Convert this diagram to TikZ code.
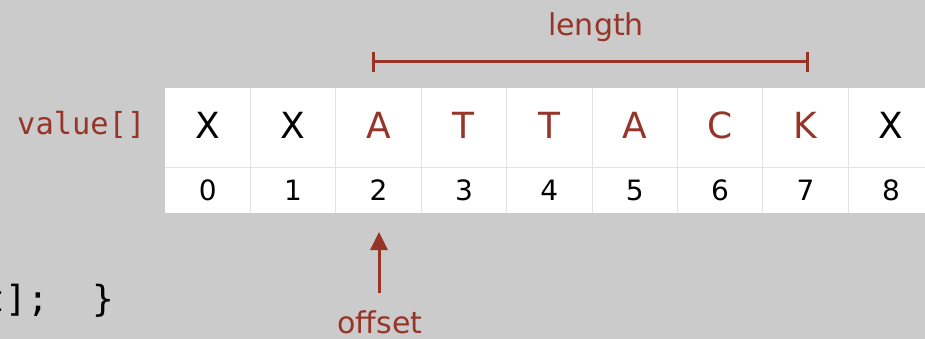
\documentclass[tikz,border=0pt]{standalone}
\usepackage{fontspec}
\setmainfont{DejaVu Sans}
\setmonofont{DejaVu Sans Mono}
\usetikzlibrary{arrows.meta}
\definecolor{bg}{RGB}{203,203,203}
\definecolor{rust}{RGB}{150,52,40}
\definecolor{gridc}{RGB}{226,226,226}
\tikzset{
  letter/.style={font=\fontsize{36}{40}\selectfont, inner sep=0pt, anchor=center},
  idx/.style={font=\fontsize{28}{32}\selectfont, inner sep=0pt, anchor=center, text=black},
  redlbl/.style={font=\fontsize{30}{34}\selectfont, text=rust, inner sep=0pt},
  bar/.style={draw=rust, line width=3pt},
}
\begin{document}
\begin{tikzpicture}[x=1pt,y=-1pt]
\fill[bg] (0,0) rectangle (925,339);
\useasboundingbox (0,0) rectangle (925,339);
% table
\fill[white] (165,88) rectangle (935,213);
\foreach \i in {1,...,8} {
  \draw[gridc, line width=1pt] ({165+85.4*\i},88) -- ({165+85.4*\i},213);
}
\draw[gridc, line width=1pt] (165,167.5) -- (935,167.5);
% letters
\foreach \c [count=\i from 0] in {X,X,A,T,T,A,C,K,X} {
  \pgfmathsetmacro{\cx}{165+85.4*(\i+0.5)}
  \ifnum\i<2 \def\col{black}\else\ifnum\i>7 \def\col{black}\else\def\col{rust}\fi\fi
  \node[letter, text=\col] (c\i) at (\cx,125) {\c};
  \node[idx] (n\i) at (\cx,190.5) {\i};
}
% value[] label
\node[font=\ttfamily\fontsize{30.4}{34}\selectfont, text=rust, inner sep=0pt, anchor=base west] (val) at (17,135) {value[]};
% code fragment
\node[font=\ttfamily\fontsize{36}{40}\selectfont, text=black, inner sep=0pt, anchor=base west] (code) at (-16.5,311) {t];\ \ \}};
% length bar
\coordinate (la) at (373,62);
\coordinate (lb) at (807,62);
\draw[bar] (la) -- (lb);
\draw[bar] ([yshift=-10pt]la) -- ([yshift=9.5pt]la);
\draw[bar] ([yshift=-10pt]lb) -- ([yshift=9.5pt]lb);
\node[redlbl, anchor=base] (len) at (596,36) {length};
% offset arrow
\node[redlbl, anchor=base] (off) at (380,333) {offset};
\coordinate (tip) at (379,232);
\coordinate (tail) at (379,293);
\draw[rust, line width=3pt, -{Triangle[length=18pt,width=17pt]}] (tail) -- (tip);
\end{tikzpicture}
\end{document}
